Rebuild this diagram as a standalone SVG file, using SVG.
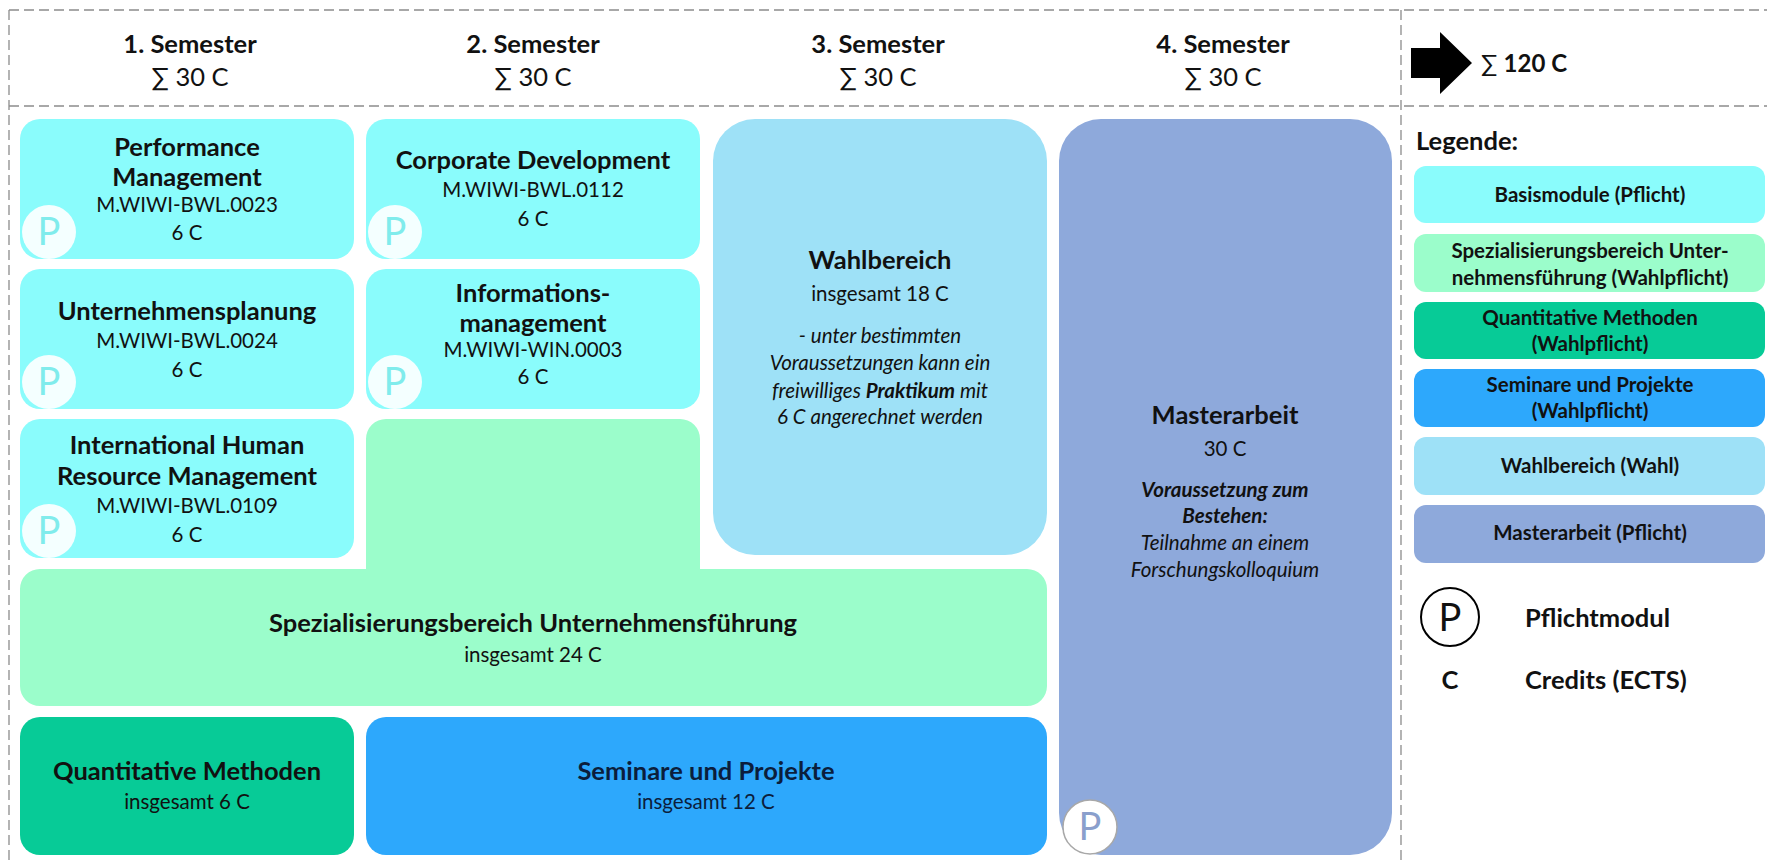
<svg xmlns="http://www.w3.org/2000/svg" width="1767" height="862" viewBox="0 0 1767 862">
<style>
text{font-family:Lato,"Liberation Sans",sans-serif;fill:#111;text-anchor:middle}
.h{font-size:25.5px;font-weight:bold}
.hs{font-size:25.5px}
.t{font-size:25.5px;font-weight:bold}
.c{font-size:20.5px}
.i{font-size:20.5px;font-style:italic}
.lg{font-size:20.5px;font-weight:bold}
.pl{font-size:38px;text-anchor:middle}
.dash{stroke:#8c8c8c;stroke-width:1.3;stroke-dasharray:10 5;fill:none}
.cy{fill:#8AFCFC}
.gr{fill:#9BFDCB}
.qm{fill:#07CB97}
.sp{fill:#2DA8FC}
.wb{fill:#9EE1F7}
.ma{fill:#8EA9DB}
.pc{fill:#ffffff;fill-opacity:0.9}
.pt{fill:#80ECEC}
</style>
<g id="frame">
<line class="dash" x1="9" y1="10" x2="1767" y2="10"/>
<line class="dash" x1="9" y1="106" x2="1767" y2="106"/>
<line class="dash" x1="9" y1="10" x2="9" y2="862"/>
<line class="dash" x1="1401" y1="10" x2="1401" y2="862"/>
</g>
<g id="headers">
<text class="h" x="190" y="53">1. Semester</text><text class="hs" x="190" y="86">∑ 30 C</text>
<text class="h" x="533" y="53">2. Semester</text><text class="hs" x="533" y="86">∑ 30 C</text>
<text class="h" x="878" y="53">3. Semester</text><text class="hs" x="878" y="86">∑ 30 C</text>
<text class="h" x="1223" y="53">4. Semester</text><text class="hs" x="1223" y="86">∑ 30 C</text>
</g>
<g id="total">
<polygon points="1411,48 1440,48 1440,32 1472,63 1440,94 1440,78 1411,78" fill="#000"/>
<text x="1481" y="72" style="text-anchor:start;font-size:24px"><tspan>∑ </tspan><tspan font-weight="bold">120 C</tspan></text>
</g>
<g id="performance">
<rect class="cy" x="20" y="119" width="334" height="140" rx="20"/>
<text class="t" x="187" y="156">Performance</text>
<text class="t" x="187" y="186">Management</text>
<text class="c" x="187" y="212">M.WIWI-BWL.0023</text>
<text class="c" x="187" y="240">6 C</text>
<circle class="pc" cx="49" cy="232" r="27"/><text class="pl pt" x="49" y="245">P</text>
</g>
<g id="unternehmensplanung">
<rect class="cy" x="20" y="269" width="334" height="140" rx="20"/>
<text class="t" x="187" y="320">Unternehmensplanung</text>
<text class="c" x="187" y="348">M.WIWI-BWL.0024</text>
<text class="c" x="187" y="377">6 C</text>
<circle class="pc" cx="49" cy="382" r="27"/><text class="pl pt" x="49" y="395">P</text>
</g>
<g id="ihrm">
<rect class="cy" x="20" y="419" width="334" height="139" rx="20"/>
<text class="t" x="187" y="454">International Human</text>
<text class="t" x="187" y="485">Resource Management</text>
<text class="c" x="187" y="513">M.WIWI-BWL.0109</text>
<text class="c" x="187" y="542">6 C</text>
<circle class="pc" cx="49" cy="531" r="27"/><text class="pl pt" x="49" y="544">P</text>
</g>
<g id="corporate">
<rect class="cy" x="366" y="119" width="334" height="140" rx="20"/>
<text class="t" x="533" y="169">Corporate Development</text>
<text class="c" x="533" y="197">M.WIWI-BWL.0112</text>
<text class="c" x="533" y="226">6 C</text>
<circle class="pc" cx="395" cy="232" r="27"/><text class="pl pt" x="395" y="245">P</text>
</g>
<g id="informationsmanagement">
<rect class="cy" x="366" y="269" width="334" height="140" rx="20"/>
<text class="t" x="533" y="302">Informations-</text>
<text class="t" x="533" y="332">management</text>
<text class="c" x="533" y="357">M.WIWI-WIN.0003</text>
<text class="c" x="533" y="384">6 C</text>
<circle class="pc" cx="395" cy="382" r="27"/><text class="pl pt" x="395" y="395">P</text>
</g>
<g id="spezialisierung">
<path class="gr" d="M366,439 A20,20 0 0 1 386,419 L680,419 A20,20 0 0 1 700,439 L700,569 L1027,569 A20,20 0 0 1 1047,589 L1047,686 A20,20 0 0 1 1027,706 L40,706 A20,20 0 0 1 20,686 L20,589 A20,20 0 0 1 40,569 L366,569 Z"/>
<text class="t" x="533" y="632">Spezialisierungsbereich Unternehmensführung</text>
<text class="c" x="533" y="662">insgesamt 24 C</text>
</g>
<g id="wahlbereich">
<rect class="wb" x="713" y="119" width="334" height="436" rx="42"/>
<text class="t" x="880" y="269">Wahlbereich</text>
<text class="c" x="880" y="301">insgesamt 18 C</text>
<text class="i" x="880" y="343">- unter bestimmten</text>
<text class="i" x="880" y="370">Voraussetzungen kann ein</text>
<text class="i" x="880" y="398">freiwilliges <tspan font-weight="bold">Praktikum</tspan> mit</text>
<text class="i" x="880" y="424">6 C angerechnet werden</text>
</g>
<g id="masterarbeit">
<rect class="ma" x="1059" y="119" width="333" height="736" rx="42"/>
<text class="t" x="1225" y="424" fill="#0e1a33">Masterarbeit</text>
<text class="c" x="1225" y="456">30 C</text>
<text class="i" x="1225" y="497" font-weight="bold">Voraussetzung zum</text>
<text class="i" x="1225" y="523" font-weight="bold">Bestehen:</text>
<text class="i" x="1225" y="550">Teilnahme an einem</text>
<text class="i" x="1225" y="577">Forschungskolloquium</text>
<circle cx="1090" cy="827" r="27" fill="#fff" stroke="#a8a8a8" stroke-width="1.5"/><text class="pl" x="1090" y="840" style="fill:#8A9FCC">P</text>
</g>
<g id="quantitative">
<rect class="qm" x="20" y="717" width="334" height="138" rx="20"/>
<text class="t" x="187" y="780">Quantitative Methoden</text>
<text class="c" x="187" y="809">insgesamt 6 C</text>
</g>
<g id="seminare">
<rect class="sp" x="366" y="717" width="681" height="138" rx="20"/>
<text class="t" x="706" y="780" style="fill:#0b1e3c">Seminare und Projekte</text>
<text class="c" x="706" y="809" style="fill:#0b1e3c">insgesamt 12 C</text>
</g>
<g id="legend">
<text x="1416" y="150" style="text-anchor:start;font-size:25.5px;font-weight:bold">Legende:</text>
<rect class="cy" x="1414" y="166" width="351" height="57" rx="12"/>
<text class="lg" x="1590" y="202">Basismodule (Pflicht)</text>
<rect class="gr" x="1414" y="234" width="351" height="58" rx="12"/>
<text class="lg" x="1590" y="258">Spezialisierungsbereich Unter-</text>
<text class="lg" x="1590" y="285">nehmensführung (Wahlpflicht)</text>
<rect class="qm" x="1414" y="302" width="351" height="57" rx="12"/>
<text class="lg" x="1590" y="325">Quantitative Methoden</text>
<text class="lg" x="1590" y="351">(Wahlpflicht)</text>
<rect class="sp" x="1414" y="369" width="351" height="58" rx="12"/>
<text class="lg" x="1590" y="392">Seminare und Projekte</text>
<text class="lg" x="1590" y="418">(Wahlpflicht)</text>
<rect class="wb" x="1414" y="437" width="351" height="58" rx="12"/>
<text class="lg" x="1590" y="473">Wahlbereich (Wahl)</text>
<rect class="ma" x="1414" y="505" width="351" height="58" rx="12"/>
<text class="lg" x="1590" y="540">Masterarbeit (Pflicht)</text>
<circle cx="1450" cy="617" r="29" fill="none" stroke="#000" stroke-width="2"/>
<text class="pl" x="1450" y="631">P</text>
<text x="1525" y="627" style="text-anchor:start;font-size:25.5px;font-weight:bold">Pflichtmodul</text>
<text x="1450" y="689" style="font-size:25.5px;font-weight:bold">C</text>
<text x="1525" y="689" style="text-anchor:start;font-size:25.5px;font-weight:bold">Credits (ECTS)</text>
</g>
</svg>
